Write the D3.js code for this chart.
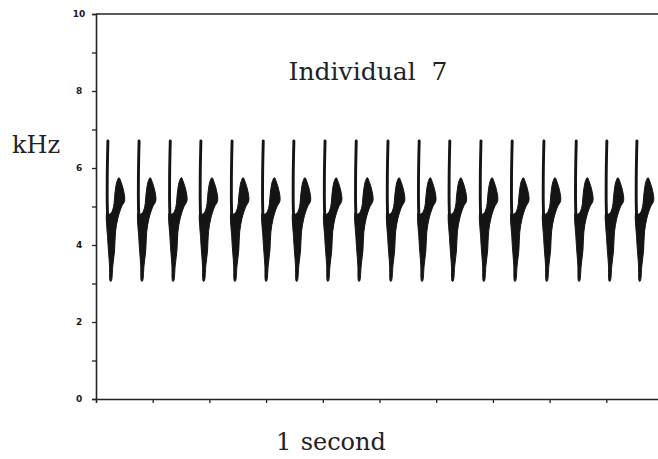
<!DOCTYPE html>
<html>
<head>
<meta charset="utf-8">
<script src="https://cdn.jsdelivr.net/npm/d3@7"></script>
<style>
  html, body { margin: 0; padding: 0; background: #fff; }
  svg { display: block; }
</style>
</head>
<body>
<svg id="chart" width="658" height="459"></svg>
<script>
// ---- Data ----
// Syllable onset times (seconds from start of the 1 s window)
const onsets = [0.021, 0.076, 0.131, 0.185, 0.240, 0.295, 0.349, 0.404, 0.459,
                0.515, 0.570, 0.624, 0.679, 0.734, 0.790, 0.847, 0.901, 0.954];
// Thin descending whistle of each syllable: time offset (ms) and frequency (kHz)
const strokeDt = [0.0, -1.0, -1.3, -0.9, 0.0];
const strokeF  = [6.70, 6.00, 5.30, 4.90, 4.55];
// Dense V-shaped body of each syllable (outline): time offset (ms), frequency (kHz)
const bodyDt = [-1.8, -0.3, 2.8, 4.2, 5.8, 8.8, 11.8, 13.4, 17.6, 24.0, 29.5, 27.5, 22.5, 19.6, 15.8, 12.5, 10.0, 6.0, 1.5];
const bodyF  = [4.83, 4.13, 3.48, 3.06, 3.06, 3.48, 3.87, 4.34, 4.70, 4.99, 5.15, 5.42, 5.66, 5.75, 5.64, 5.35, 5.00, 4.84, 4.80];
// Axis ticks
const yTicks = [0, 1, 2, 3, 4, 5, 6, 7, 8, 9, 10];
const yLabels = ["0", "", "2", "", "4", "", "6", "", "8", "", "10"];
const xTicks = [0.1, 0.2, 0.3, 0.4, 0.5, 0.6, 0.7, 0.8, 0.9];
const title = "Individual\u00a0\u00a07";
const yTitle = "kHz";
const xTitle = "1\u00a0\u00a0second";

// ---- Scales ----
const svg = d3.select("#chart");
const x = d3.scaleLinear().domain([0, 1]).range([96, 663]);
const y = d3.scaleLinear().domain([0, 10]).range([399, 14]);
const ink = "#141414";

// ---- Syllables ----
const strokePts = strokeDt.map((d, i) => [d / 1000, strokeF[i]]);
const bodyPts = bodyDt.map((d, i) => [d / 1000, bodyF[i]]);

const g = svg.append("g");
onsets.forEach(t0 => {
  const body = d3.line()
    .x(p => x(t0 + p[0])).y(p => y(p[1]))
    .curve(d3.curveCatmullRomClosed.alpha(0.5));
  g.append("path").attr("d", body(bodyPts))
    .attr("fill", ink).attr("stroke", ink).attr("stroke-width", 1);
  const stroke = d3.line()
    .x(p => x(t0 + p[0])).y(p => y(p[1]))
    .curve(d3.curveCatmullRom.alpha(0.5));
  g.append("path").attr("d", stroke(strokePts))
    .attr("fill", "none").attr("stroke", ink).attr("stroke-width", 2.9)
    .attr("stroke-linecap", "round");
});

// ---- Axes ----
const yAxis = d3.axisLeft(y).tickValues(yTicks).tickSize(4)
  .tickFormat((d, i) => yLabels[i]);
const ya = svg.append("g").attr("transform", `translate(${x(0)},0)`).call(yAxis);
ya.select(".domain").attr("stroke", "#222").attr("stroke-width", 1.6);
ya.selectAll(".tick line").attr("stroke", "#222").attr("stroke-width", 1.3);
ya.selectAll(".tick text")
  .attr("x", -17).attr("text-anchor", "middle")
  .attr("font-family", "DejaVu Sans, sans-serif").attr("font-weight", "bold")
  .attr("font-size", 9).attr("fill", "#1a1a1a");

const xAxis = d3.axisBottom(x).tickValues(xTicks).tickSize(4).tickFormat("");
const xa = svg.append("g").attr("transform", `translate(0,${y(0)})`).call(xAxis);
xa.select(".domain").attr("stroke", "#222").attr("stroke-width", 1.6);
xa.selectAll(".tick line").attr("stroke", "#222").attr("stroke-width", 1.3);

// top frame line
svg.append("line")
  .attr("x1", x(0)).attr("x2", 658).attr("y1", y(10)).attr("y2", y(10))
  .attr("stroke", "#222").attr("stroke-width", 1.6);

// ---- Texts ----
svg.append("text").attr("x", 368).attr("y", 80)
  .attr("text-anchor", "middle").attr("font-family", "DejaVu Serif, serif")
  .attr("font-size", 25).attr("fill", "#222").text(title);
svg.append("text").attr("x", 36).attr("y", 153)
  .attr("text-anchor", "middle").attr("font-family", "DejaVu Serif, serif")
  .attr("font-size", 24).attr("fill", "#222").text(yTitle);
svg.append("text").attr("x", 331).attr("y", 450)
  .attr("text-anchor", "middle").attr("font-family", "DejaVu Serif, serif")
  .attr("font-size", 24).attr("word-spacing", -3).attr("fill", "#222").text(xTitle);
</script>
</body>
</html>
